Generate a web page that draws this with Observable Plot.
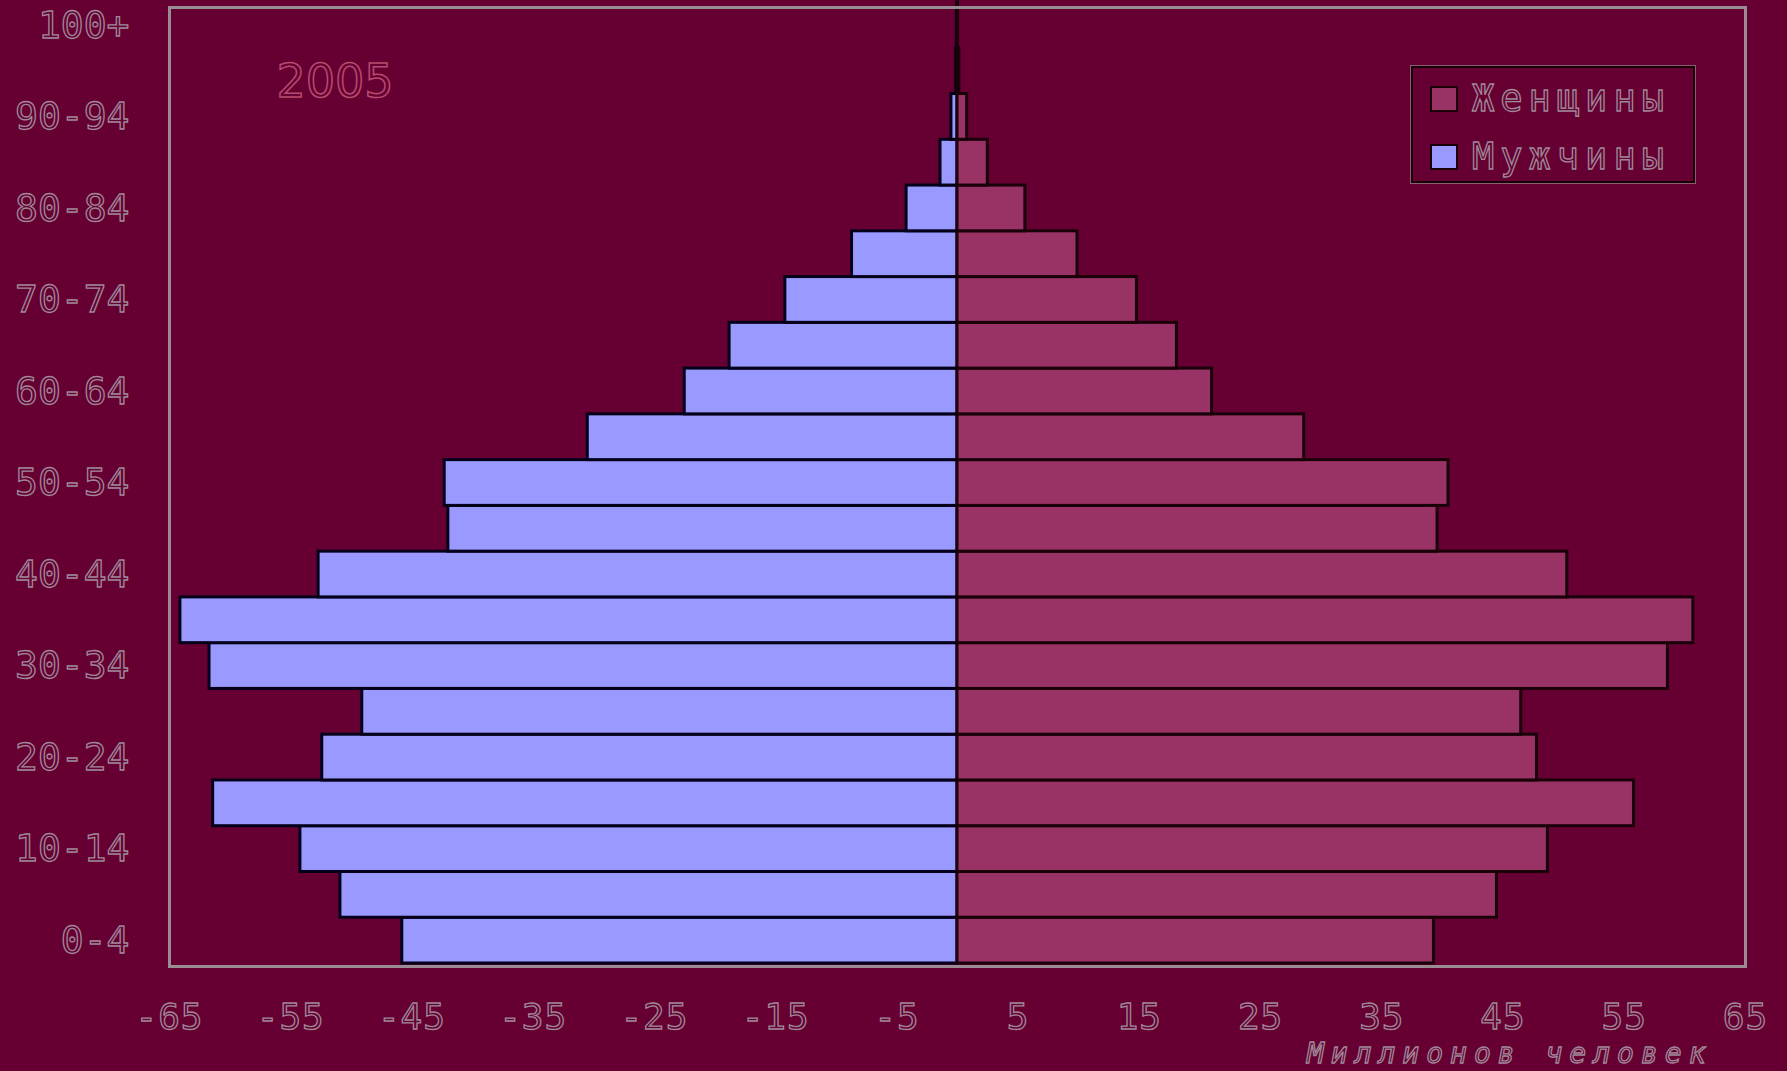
<!DOCTYPE html>
<html>
<head>
<meta charset="utf-8">
<script src="https://cdn.jsdelivr.net/npm/d3@7"></script>
<script src="https://cdn.jsdelivr.net/npm/@observablehq/plot@0.6"></script>
<style>
  html, body { margin: 0; padding: 0; background: #660033; }
  #wrap { position: relative; width: 1787px; height: 1071px; overflow: hidden; }
  #wrap svg text { fill: #660033; stroke: #a08898; stroke-width: 1.3px; paint-order: normal; }
  #wrap svg g[aria-label="x-axis tick label"] { font-size: 36px; letter-spacing: 1px; }
  #wrap svg .yearlbl text { stroke: #b84a6e; stroke-width: 1.5px; }
  #wrap svg .axtitle text { letter-spacing: 7px; }
  #legend {
    position: absolute; left: 1411px; top: 66px; width: 280px; height: 113px;
    border: 2px solid #1a0008; outline: 1px solid #8a6070;
    font-family: "DejaVu Sans Mono", monospace; font-size: 37px; letter-spacing: 6px;
  }
  #legend .item { position: absolute; left: 17px; display: flex; align-items: center; }
  #legend .sw { width: 24px; height: 22px; border: 2px solid #1a0008; margin-right: 14px; }
  #legend .lab { color: #660033; -webkit-text-stroke: 1.3px #a08898; }
</style>
</head>
<body>
<div id="wrap"></div>
<script>
const ageGroups = ["0-4","5-9","10-14","15-19","20-24","25-29","30-34","35-39","40-44","45-49","50-54","55-59","60-64","65-69","70-74","75-79","80-84","85-89","90-94","95-99","100+"];
const men   = [45.8, 50.9, 54.2, 61.4, 52.4, 49.1, 61.7, 64.1, 52.7, 42.0, 42.3, 30.5, 22.5, 18.8, 14.2, 8.7, 4.2, 1.4, 0.5, 0.1, 0.05];
const women = [39.3, 44.5, 48.7, 55.8, 47.8, 46.5, 58.6, 60.7, 50.3, 39.6, 40.5, 28.6, 21.0, 18.1, 14.8, 9.9, 5.6, 2.5, 0.8, 0.15, 0.05];
const xTicks = [-65, -55, -45, -35, -25, -15, -5, 5, 15, 25, 35, 45, 55, 65];
const yTickLabels = ["0-4","10-14","20-24","30-34","40-44","50-54","60-64","70-74","80-84","90-94","100+"];
const seriesNames = ["Женщины", "Мужчины"];
const seriesColors = ["#993366", "#9999ff"];
const yearLabel = ["2005"];
const axisTitle = ["Миллионов человек"];

const rows = ageGroups.map((a, i) => ({age: a, men: men[i], women: women[i]}));

const chart = Plot.plot({
  width: 1787,
  height: 1071,
  marginLeft: 169,
  marginRight: 42,
  marginTop: 7,
  marginBottom: 105,
  style: {background: "#660033", fontFamily: "DejaVu Sans Mono, monospace", fontSize: "38px", overflow: "visible"},
  x: {domain: [-65, 65], ticks: xTicks, tickSize: 0, tickPadding: 37, label: null, tickFormat: d => String(d)},
  y: {domain: ageGroups.slice().reverse(), range: [2, 963], round: false, padding: 0, ticks: yTickLabels, tickSize: 0, tickPadding: 40, label: null},
  marks: [
    Plot.barX(rows, {y: "age", x: d => -d.men, fill: seriesColors[1], stroke: "#05001a", strokeWidth: 3}),
    Plot.barX(rows, {y: "age", x: "women", fill: seriesColors[0], stroke: "#1a0008", strokeWidth: 3}),
    Plot.frame({stroke: "#9a8c94", strokeWidth: 3}),
    Plot.text(yearLabel, {text: d => d, frameAnchor: "top-left", textAnchor: "start", dx: 107, dy: 57, fontFamily: "DejaVu Sans, sans-serif", fontSize: 46, className: "yearlbl"}),
    Plot.text(axisTitle, {text: d => d, frameAnchor: "bottom-right", textAnchor: "end", dx: -33, dy: 88, fontSize: 28, fontStyle: "italic", lineAnchor: "middle", className: "axtitle"})
  ]
});

const wrap = document.getElementById("wrap");
wrap.appendChild(chart);

const legend = document.createElement("div");
legend.id = "legend";
seriesNames.forEach((name, i) => {
  const item = document.createElement("div");
  item.className = "item";
  item.style.top = (i === 0 ? 9 : 67) + "px";
  const sw = document.createElement("div");
  sw.className = "sw";
  sw.style.background = seriesColors[i];
  const lab = document.createElement("span");
  lab.className = "lab";
  lab.textContent = name;
  item.appendChild(sw);
  item.appendChild(lab);
  legend.appendChild(item);
});
wrap.appendChild(legend);
</script>
</body>
</html>
